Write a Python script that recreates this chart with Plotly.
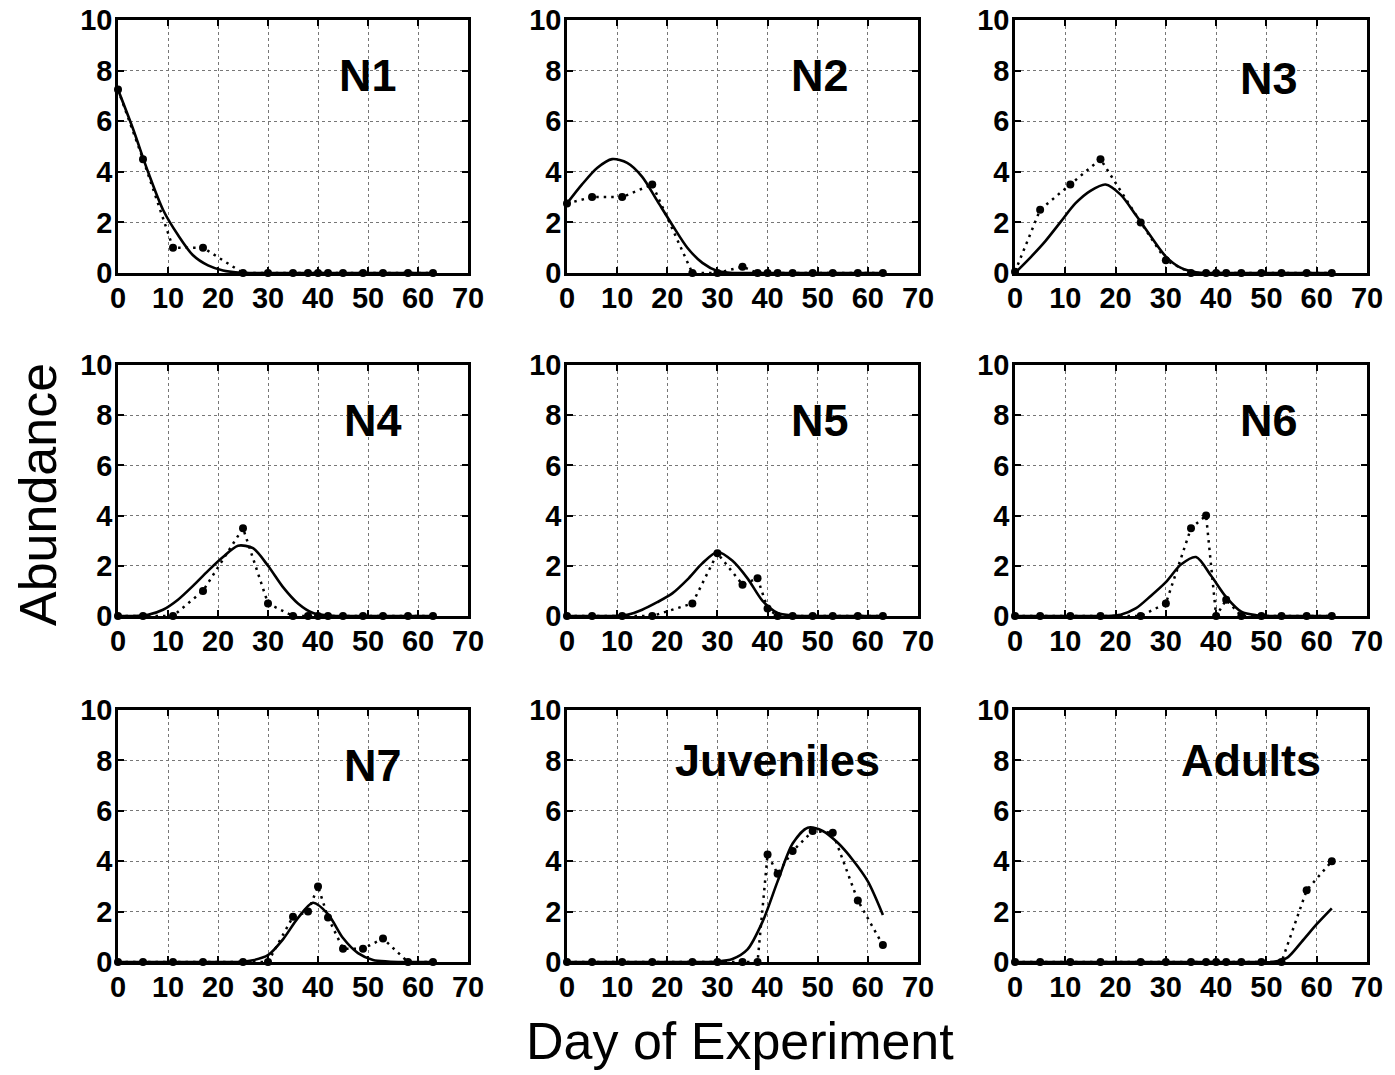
import plotly.graph_objects as go

# ---------------- data ----------------
days = [0, 5, 11, 17, 25, 30, 35, 38, 40, 42, 45, 49, 53, 58, 63]
model_days = [0, 3, 6, 9, 12, 15, 18, 21, 24, 27, 30, 33, 36, 39, 42, 45, 48, 51, 54, 57, 60, 63]

stage_names = ["N1", "N2", "N3", "N4", "N5", "N6", "N7", "Juveniles", "Adults"]

obs_N1 = [7.25, 4.5, 1.0, 1.0, 0, 0, 0, 0, 0, 0, 0, 0, 0, 0, 0]
obs_N2 = [2.75, 3.0, 3.0, 3.5, 0, 0, 0.25, 0, 0, 0, 0, 0, 0, 0, 0]
obs_N3 = [0.05, 2.5, 3.5, 4.5, 2.0, 0.5, 0, 0, 0, 0, 0, 0, 0, 0, 0]
obs_N4 = [0, 0, 0, 1.0, 3.5, 0.5, 0, 0, 0, 0, 0, 0, 0, 0, 0]
obs_N5 = [0, 0, 0, 0, 0.5, 2.5, 1.25, 1.5, 0.3, 0, 0, 0, 0, 0, 0]
obs_N6 = [0, 0, 0, 0, 0, 0.5, 3.5, 4.0, 0, 0.65, 0, 0, 0, 0, 0]
obs_N7 = [0, 0, 0, 0, 0, 0, 1.8, 2.0, 3.0, 1.77, 0.53, 0.53, 0.93, 0, 0]
obs_Juv = [0, 0, 0, 0, 0, 0, 0, 0, 4.27, 3.5, 4.4, 5.2, 5.13, 2.44, 0.67]
obs_Adu = [0, 0, 0, 0, 0, 0, 0, 0, 0, 0, 0, 0, 0, 2.85, 4.0]

mod_N1 = [7.25, 5.7, 4.0, 2.5, 1.5, 0.7, 0.3, 0.1, 0.02, 0, 0, 0, 0, 0, 0, 0, 0, 0, 0, 0, 0, 0]
mod_N2 = [2.75, 3.5, 4.15, 4.5, 4.35, 3.8, 2.85, 1.9, 1.0, 0.4, 0.08, 0, 0, 0, 0, 0, 0, 0, 0, 0, 0, 0]
mod_N3 = [0, 0.6, 1.25, 2.0, 2.75, 3.25, 3.5, 3.1, 2.3, 1.45, 0.65, 0.2, 0.03, 0, 0, 0, 0, 0, 0, 0, 0, 0]
mod_N4 = [0, 0, 0.05, 0.25, 0.65, 1.2, 1.8, 2.35, 2.8, 2.7, 2.0, 1.15, 0.5, 0.12, 0.02, 0, 0, 0, 0, 0, 0, 0]
mod_N5 = [0, 0, 0, 0, 0.05, 0.25, 0.55, 0.9, 1.45, 2.1, 2.55, 2.2, 1.5, 0.6, 0.12, 0.02, 0, 0, 0, 0, 0, 0]
mod_N6 = [0, 0, 0, 0, 0, 0, 0, 0.05, 0.3, 0.8, 1.35, 2.05, 2.35, 1.6, 0.75, 0.17, 0.03, 0, 0, 0, 0, 0]
mod_N7 = [0, 0, 0, 0, 0, 0, 0, 0, 0, 0.07, 0.27, 0.9, 1.75, 2.35, 1.9, 0.95, 0.35, 0.08, 0.02, 0, 0, 0]
mod_Juv = [0, 0, 0, 0, 0, 0, 0, 0, 0, 0, 0.02, 0.12, 0.5, 1.6, 3.2, 4.7, 5.33, 5.2, 4.73, 4.05, 3.2, 1.87]
mod_Adu = [0, 0, 0, 0, 0, 0, 0, 0, 0, 0, 0, 0, 0, 0, 0, 0, 0, 0, 0.15, 0.8, 1.5, 2.13]

observed = [obs_N1, obs_N2, obs_N3, obs_N4, obs_N5, obs_N6, obs_N7, obs_Juv, obs_Adu]
modelled = [mod_N1, mod_N2, mod_N3, mod_N4, mod_N5, mod_N6, mod_N7, mod_Juv, mod_Adu]

x_ticks = [0, 10, 20, 30, 40, 50, 60, 70]
y_ticks = [0, 2, 4, 6, 8, 10]

# ---------------- layout helpers ----------------
W, H = 1395, 1075
col_px = [(118, 468), (567, 918), (1015, 1367)]
row_px = [(20, 273), (365, 616), (710, 962)]
label_pos = [(50, 7.8), (50.5, 7.8), (50.5, 7.7), (51, 7.8), (50.5, 7.8), (50.5, 7.8),
             (51, 7.8), (42, 8.0), (47, 8.0)]

FONT = "Liberation Sans, Arial, Helvetica, sans-serif"

fig = go.Figure()
annotations = []

for i in range(9):
    r, c = divmod(i, 3)
    k = "" if i == 0 else str(i + 1)
    xa, ya = "x" + k, "y" + k

    fig.add_trace(go.Scatter(
        x=model_days, y=modelled[i], mode="lines", xaxis=xa, yaxis=ya,
        line=dict(color="black", width=2.6, shape="spline", smoothing=0.8),
        showlegend=False, cliponaxis=False, hoverinfo="skip"))
    fig.add_trace(go.Scatter(
        x=days, y=observed[i], mode="lines+markers", xaxis=xa, yaxis=ya,
        line=dict(color="black", width=2.5, dash="2.5px,5px"),
        marker=dict(color="black", size=8),
        showlegend=False, cliponaxis=False))

    x0, x1 = col_px[c]
    y0, y1 = row_px[r]
    axis_common = dict(
        showline=True, linecolor="black", linewidth=2.5, mirror="ticks",
        ticks="inside", ticklen=6, tickwidth=2, tickcolor="black",
        showgrid=True, gridcolor="#777777", gridwidth=1, griddash="dot",
        zeroline=False, fixedrange=True, automargin=False,
        tickfont=dict(family=FONT, size=29, color="black", weight="bold"),
    )
    fig.layout["xaxis" + k] = dict(
        axis_common, domain=[x0 / W, x1 / W], range=[0, 70],
        tickvals=x_ticks, anchor=ya, ticklabelstandoff=-3)
    fig.layout["yaxis" + k] = dict(
        axis_common, domain=[1 - y1 / H, 1 - y0 / H], range=[0, 10],
        tickvals=y_ticks, anchor=xa, ticklabelstandoff=-3)

    lx, ly = label_pos[i]
    annotations.append(dict(
        x=lx, y=ly, xref=xa, yref=ya, text=stage_names[i], showarrow=False,
        xanchor="center", yanchor="middle",
        font=dict(family=FONT, size=45, color="black", weight="bold")))

annotations.append(dict(
    x=38 / W, y=1 - 495 / H, xref="paper", yref="paper", text="Abundance",
    showarrow=False, textangle=-90, xanchor="center", yanchor="middle",
    font=dict(family=FONT, size=52, color="black")))
annotations.append(dict(
    x=740 / W, y=1 - 1041 / H, xref="paper", yref="paper", text="Day of Experiment",
    showarrow=False, xanchor="center", yanchor="middle",
    font=dict(family=FONT, size=52, color="black")))

fig.update_layout(
    width=W, height=H, margin=dict(l=0, r=0, t=0, b=0, autoexpand=False),
    paper_bgcolor="white", plot_bgcolor="white",
    annotations=annotations, showlegend=False,
)

fig.write_html("out.html")
